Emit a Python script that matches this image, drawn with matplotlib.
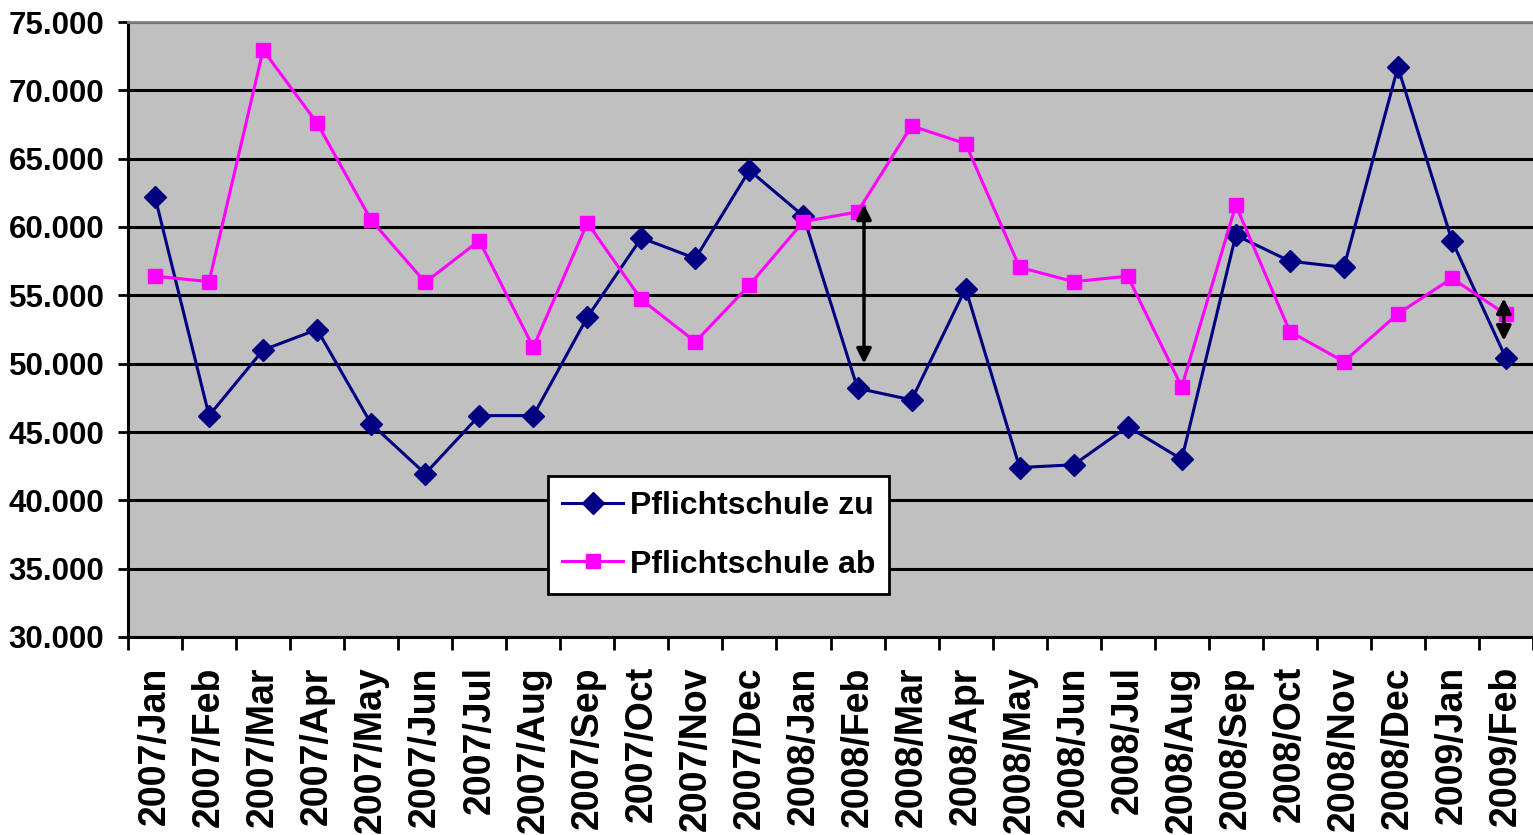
"""Pflichtschule zu / ab - monthly line chart (Excel style)."""
import matplotlib

matplotlib.use("Agg")
import matplotlib.pyplot as plt  # noqa: E402
from matplotlib import font_manager  # noqa: E402
from matplotlib.ticker import FixedLocator, FuncFormatter  # noqa: E402

months = [
    "2007/Jan", "2007/Feb", "2007/Mar", "2007/Apr", "2007/May", "2007/Jun",
    "2007/Jul", "2007/Aug", "2007/Sep", "2007/Oct", "2007/Nov", "2007/Dec",
    "2008/Jan", "2008/Feb", "2008/Mar", "2008/Apr", "2008/May", "2008/Jun",
    "2008/Jul", "2008/Aug", "2008/Sep", "2008/Oct", "2008/Nov", "2008/Dec",
    "2009/Jan", "2009/Feb",
]
zu = [
    62200, 46200, 51000, 52500, 45600, 41950, 46200, 46200, 53400, 59200,
    57700, 64150, 60800, 48200, 47350, 55500, 42400, 42600, 45400, 43000,
    59400, 57500, 57050, 71700, 59000, 50400,
]
ab = [
    56400, 56000, 72950, 67600, 60500, 55950, 59000, 51200, 60300, 54700,
    51600, 55750, 60400, 61100, 67400, 66100, 57050, 56000, 56400, 48300,
    61600, 52350, 50150, 53650, 56250, 53600,
]
series_names = ["Pflichtschule zu", "Pflichtschule ab"]
# gap markers: (category position, upper value, lower value)
gap_arrows = [(13.12, 61650, 50000), (24.96, 54780, 51680)]

NAVY = "#000080"
MAGENTA = "#FF00FF"
PLOT_BG = "#C0C0C0"

names = {f.name for f in font_manager.fontManager.ttflist}
FONT = "Liberation Sans Narrow" if "Liberation Sans Narrow" in names else "Liberation Sans"
plt.rcParams["font.family"] = [FONT, "DejaVu Sans"]
plt.rcParams["font.weight"] = "bold"

fig = plt.figure(figsize=(15.33, 8.35), dpi=100)
ax = fig.add_axes([128 / 1533, 198 / 835, 1405 / 1533, 615 / 835])
ax.set_facecolor(PLOT_BG)

x = list(range(len(months)))
ax.plot(x, zu, color=NAVY, lw=2.2, marker="D", ms=11,
        mec=NAVY, mfc=NAVY, label=series_names[0], zorder=3)
ax.plot(x, ab, color=MAGENTA, lw=2.2, marker="s", ms=10.5,
        mec=MAGENTA, mfc=MAGENTA, label=series_names[1], zorder=3)

for gx, top, bot in gap_arrows:
    ax.annotate("", xy=(gx, top), xytext=(gx, bot),
                arrowprops=dict(arrowstyle="<|-|>", color="black", lw=2.5,
                                mutation_scale=22, shrinkA=0, shrinkB=0),
                zorder=4)

ax.set_xlim(-0.5, len(months) - 0.5)
ax.set_ylim(30000, 75000)
ax.set_yticks(range(30000, 75001, 5000))
ax.yaxis.set_major_formatter(FuncFormatter(lambda v, _: f"{int(v):,}".replace(",", ".")))
ax.grid(axis="y", color="black", lw=2.2)
ax.set_axisbelow(True)

ax.set_xticks(x)
ax.set_xticklabels(months, rotation=90, ha="center", va="top")
ax.xaxis.set_minor_locator(FixedLocator([i + 0.5 for i in range(-1, len(months))]))
ax.tick_params(axis="x", which="major", length=0, pad=21, labelsize=27)
ax.tick_params(axis="x", which="minor", length=9, width=2, direction="out")
ax.tick_params(axis="y", length=7, width=2, pad=10, labelsize=22.5)

for side in ("left", "bottom"):
    ax.spines[side].set_color("black")
    ax.spines[side].set_linewidth(2.2)
ax.spines["top"].set_color("#808080")
ax.spines["top"].set_linewidth(2)
ax.spines["right"].set_visible(False)

leg = ax.legend(loc="lower left", bbox_to_anchor=(0.299, 0.07), borderaxespad=0,
                fontsize=23, frameon=True, fancybox=False, handlelength=1.9,
                handletextpad=0.2, borderpad=0.45, labelspacing=0.9)
leg.get_frame().set_facecolor("white")
leg.get_frame().set_edgecolor("black")
leg.get_frame().set_linewidth(2)
leg.get_frame().set_alpha(1)

fig.savefig("out.png", dpi=100, facecolor="white")
plt.close(fig)
